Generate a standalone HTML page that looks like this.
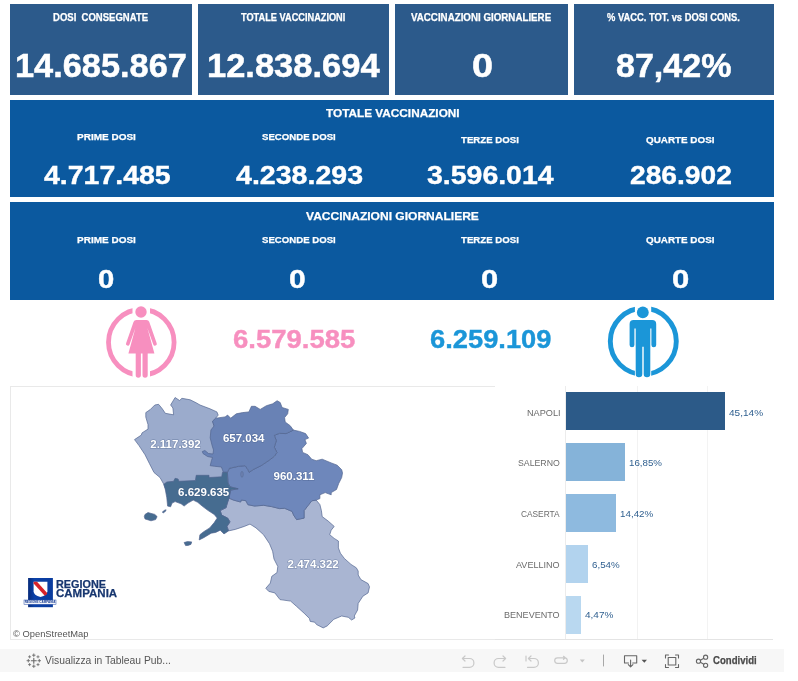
<!DOCTYPE html>
<html lang="it">
<head>
<meta charset="utf-8">
<title>Vaccinazioni Regione Campania</title>
<style>
html,body{margin:0;padding:0;background:#fff;}
body{width:798px;height:681px;position:relative;overflow:hidden;font-family:"Liberation Sans",sans-serif;}
.box{position:absolute;}
.k{background:#2c5a8b;top:4px;height:90.7px;}
.r{background:#0b599f;left:10px;width:763.9px;}
.t{position:absolute;white-space:nowrap;color:#fff;font-weight:bold;line-height:1;transform-origin:0 0;}
.bar{position:absolute;left:566px;height:38.2px;}
</style>
</head>
<body>
<!-- top KPI boxes -->
<div class="box k" style="left:10px;width:181.9px"></div>
<div class="box k" style="left:198.1px;width:190.8px"></div>
<div class="box k" style="left:395.3px;width:172.6px"></div>
<div class="box k" style="left:574.1px;width:199.8px"></div>
<!-- rows -->
<div class="box r" style="top:100px;height:96.7px"></div>
<div class="box r" style="top:202px;height:97.7px"></div>

<!-- gender icons -->
<svg class="box" style="left:100px;top:300px" width="84" height="84" viewBox="100 300 84 84">
  <circle cx="141.3" cy="342.3" r="32.8" fill="none" stroke="#f78fbf" stroke-width="4.8"/>
  <rect x="132.5" y="300" width="17.5" height="84" fill="#fff"/>
  <g fill="#f78fbf">
    <circle cx="141" cy="312" r="5.7"/>
    <path d="M135.5 320.1 h11 a3 3 0 0 1 2.8 2 l7.4 21.2 a1.8 1.8 0 0 1 -3.4 1.2 l-5.9 -16.5 l7 25.6 h-6.7 v21.5 a2.6 2.6 0 0 1 -5.2 0 v-21.5 h-1.6 v21.5 a2.6 2.6 0 0 1 -5.2 0 v-21.5 h-7.3 l7 -25.6 l-5.9 16.5 a1.8 1.8 0 0 1 -3.4 -1.2 l7.4 -21.2 a3 3 0 0 1 2.8 -2 z"/>
  </g>
</svg>
<svg class="box" style="left:600px;top:300px" width="84" height="84" viewBox="600 300 84 84">
  <circle cx="643.3" cy="341.3" r="33" fill="none" stroke="#1b96d8" stroke-width="4.9"/>
  <rect x="634.9" y="300" width="16.3" height="84" fill="#fff"/>
  <g fill="#1b96d8">
    <circle cx="642.8" cy="312.4" r="5.9"/>
    <path d="M633.5 320.1 h18.7 a4 4 0 0 1 4 4 v20.8 a2.4 2.4 0 0 1 -4.8 0 v-16.4 h-1.1 v45.5 a3.3 3.3 0 0 1 -6.6 0 v-27.3 h-1.4 v27.3 a3.3 3.3 0 0 1 -6.6 0 v-45.5 h-1.3 v16.4 a2.4 2.4 0 0 1 -4.8 0 v-20.8 a4 4 0 0 1 4 -4 z"/>
  </g>
</svg>

<!-- MAP -->
<div class="box" style="left:10px;top:386px;width:485px;height:254px;border:1px solid #e9e9e9;border-right:none;box-sizing:border-box"></div>
<svg id="map" class="box" style="left:0;top:380px" width="500" height="265" viewBox="0 380 500 265">
  <polygon fill="#a9b5d2" stroke="#50648f" stroke-opacity="0.85" stroke-width="0.8" stroke-linejoin="round" points="228.5,530.9 227,526.4 230,521.9 227.7,518.1 221.7,515.1 220.2,510.6 226.2,507.6 226.7,505.3 228.7,498 233.3,500 240.6,502 241.3,500 245.9,500.7 247.9,504.7 254.5,506 263.7,505.3 271.6,506.6 279.6,508.6 284.6,508.3 292.1,511.4 293.6,515.1 296.6,519.6 304.1,518.1 304.1,510.6 307.1,506.8 311.7,500.8 316.2,500.1 319.9,504.6 321.4,510.6 322.2,516.6 328.2,521.1 334.2,526.4 331.2,530.2 329.7,534.7 334.2,538.4 338.4,541 338.4,547.9 340.4,553.2 344.4,558.5 351,564.4 356.3,567.8 358.2,571.1 358.2,575 360.9,579.6 368.1,583.6 369.5,586.9 368.1,592.9 362.9,596.2 358.2,603.4 357.6,610 354.3,616 354.9,618 351.6,620 348.3,617.3 341.7,616 333.8,619.3 327.2,625.9 323.2,627.9 316.6,624.6 314.7,622.2 310.2,621.4 309.4,618.4 304.1,613.2 296.6,606.4 290.6,601.1 280,599.6 274.8,592.9 268.8,591.4 265.8,588.3 270.3,583.1 271.8,576.3 277,572.6 277.8,566.5 274,559 272.6,551.2 269.5,543.7 263.5,534.7 256,527.9 250,524.1 244.3,526.4 235.3,529.4"/>
  <polygon fill="#9babcc" stroke="#50648f" stroke-opacity="0.85" stroke-width="0.8" stroke-linejoin="round" points="134.5,439.6 141.3,435.1 142,432.9 148,429.1 148,424.6 145.8,417.1 145.8,412.6 150.3,409.5 154.8,405 158.6,404.3 162.3,408.8 165.3,413.3 173.6,414.8 172.9,408 170.6,405 175.1,397.5 179.6,400.5 181.9,398.3 190.2,399.8 196.2,402.8 200,405 210,408.8 216.9,411.9 218.2,415.1 215.7,418.2 212.5,421.3 220,440 225,470 226,478 200,490 166,490 163.8,484.3 160,477.5 154,472.5 149.5,463.7 145,454.7 139,445.6"/>
  <polygon fill="#6e87bb" stroke="#50648f" stroke-opacity="0.85" stroke-width="0.8" stroke-linejoin="round" points="227.4,472.3 229.4,468.3 238.6,466.3 245.2,465.7 247.9,469.6 249.2,472.3 253.1,469.6 261.1,465.7 269,460.4 274.3,456.4 276.9,452.5 274.3,447.2 276.3,440.6 274.3,435.3 279.6,433.3 286,433.6 293.4,430.1 299.6,431.4 305.6,433.6 308.6,438.1 304.9,439.6 306.4,443.4 301.9,448.6 302.6,452.4 307.9,454.7 311.7,459.2 316.2,460.7 322.2,459.2 331.2,462.9 337.2,465.2 341.7,469.7 342.5,473 341.7,477.5 338.7,483.5 336.5,489.5 331.2,492.6 331.2,494.8 325.2,492.6 319.9,494.8 319.9,498.6 316.2,500.1 311.7,500.8 307.1,506.8 304.1,510.6 304.1,518.1 296.6,519.6 293.6,515.1 292.1,511.4 284.6,508.3 279.6,508.6 271.6,506.6 263.7,505.3 254.5,506 247.9,504.7 245.9,500.7 241.3,500 240.6,502 233.3,500 228.7,498 230.7,490.1 238,488.8 230,486.8 228,482.9"/>
  <polygon fill="#6982b5" stroke="#50648f" stroke-opacity="0.85" stroke-width="0.8" stroke-linejoin="round" points="212.5,421.3 215.7,418.2 225.1,416.9 227.6,415.1 230.7,418.2 236.3,413.8 242.6,412.6 248.9,411.9 251.4,406.3 255.1,406.3 260.2,409.4 266.4,405.7 272.7,403.8 277.1,400.7 280.2,402.5 282.1,407.5 288.3,409.4 287.7,413.8 284.6,417.6 285.2,422 290.2,425.7 293.4,430.1 286,433.6 279.6,433.3 274.3,435.3 276.3,440.6 274.3,447.2 276.9,452.5 274.3,456.4 269,460.4 261.1,465.7 253.1,469.6 249.2,472.3 247.9,469.6 245.2,465.7 238.6,466.3 229.4,468.3 227.4,472.3 223.4,472.3 221.4,467 214.8,466.3 210.2,465.7 211.5,460.4 212.5,457.5 207.5,456.5 203,453.5 202.3,451.5 204.9,450.5 208.5,453.5 213,454 213.5,450 212.2,445.9 210.2,437.9 210.9,430 214,426"/>
  <polygon fill="#466c90" stroke="#50648f" stroke-opacity="0.85" stroke-width="0.8" stroke-linejoin="round" points="163.8,484.3 166.8,482 173.6,481.3 175.1,478.3 178.1,479 178.9,481.3 195.4,480.5 196.2,475.3 209,475.3 209,477.5 221.7,476.8 222.5,472.3 227.4,472.3 228,482.9 230,486.8 238.3,488.8 230.7,490.1 229.2,497.8 226.7,505.3 226.2,507.6 220.2,510.6 221.7,515.1 227.7,518.1 230,521.9 227,526.4 228.5,530.9 224,533.9 220.2,530.2 215.7,532.4 211.2,533.2 203.7,537.7 199.2,539.9 199.9,534.7 203.7,531.7 209.7,527.9 214.2,522.6 217.2,518.1 214.2,514.4 208.2,510.6 202.2,506.1 197.7,502.3 193.2,500.1 187.9,503.1 184.1,506.1 181.1,503.8 175.1,501.6 172.1,503.1 170.6,506.8 167.6,506.1 166.8,497.8 165.3,489.5"/>
  <polygon fill="#466c90" stroke="#50648f" stroke-opacity="0.85" stroke-width="0.8" stroke-linejoin="round" points="145,514.4 148,512.6 154.8,514.4 157.1,516.6 155.6,519.6 151,520.8 145,518.9 144.3,516.5"/>
  <polygon fill="#466c90" stroke="#50648f" stroke-opacity="0.85" stroke-width="0.8" stroke-linejoin="round" points="162.3,512.1 164.5,510.3 166.1,509.8 165.5,511.3 163.2,512.9"/>
  <polygon fill="#466c90" stroke="#50648f" stroke-opacity="0.85" stroke-width="0.8" stroke-linejoin="round" points="184.1,542.5 187.5,541.6 191.7,541.9 190.9,544.4 188,545.4 185.6,545.6"/>
  <ellipse cx="242" cy="474.3" rx="1.3" ry="3" fill="#6c80b0" stroke="#50648f" stroke-opacity="0.7" stroke-width="0.6"/>
  <g font-family="Liberation Sans, sans-serif" font-weight="bold" font-size="11.5" fill="#fff" text-anchor="middle" stroke="#3f557f" stroke-opacity="0.35" stroke-width="1.4" paint-order="stroke" stroke-linejoin="round">
    <text x="175.5" y="447.6">2.117.392</text>
    <text x="243.7" y="441.8">657.034</text>
    <text x="294" y="479.8">960.311</text>
    <text x="203.7" y="495.6">6.629.635</text>
    <text x="313.2" y="567.7">2.474.322</text>
  </g>
</svg>

<!-- BAR CHART -->
<div class="box" style="left:565px;top:386px;width:1px;height:254px;background:#ececec"></div>
<div class="box" style="left:636.5px;top:386px;width:1px;height:254px;background:#f2f2f2"></div>
<div class="box" style="left:707px;top:386px;width:1px;height:254px;background:#f3f3f3"></div>
<div class="box" style="left:495px;top:639px;width:278px;height:1px;background:#e4e4e4"></div>
<div class="bar" style="top:392.3px;width:159px;background:#2c5a88"></div>
<div class="bar" style="top:443px;width:58.8px;background:#85b3d9"></div>
<div class="bar" style="top:494.2px;width:50px;background:#8ebadf"></div>
<div class="bar" style="top:545.2px;width:21.9px;background:#b2d3ee"></div>
<div class="bar" style="top:596px;width:14.7px;background:#b9d8f0"></div>

<!-- TOOLBAR -->
<div class="box" style="left:0;top:649px;width:784px;height:23px;background:#f7f7f7"></div>
<svg class="box" style="left:0;top:645px" width="798" height="32" viewBox="0 645 798 32" fill="none" stroke-linecap="round" stroke-linejoin="round">
  <!-- tableau mark -->
  <g stroke="#6a6a6a" stroke-width="1.1">
    <path d="M33.8 658.2v5M31.3 660.7h5"/>
    <path d="M33.8 653.9v2.6M32.5 655.2h2.6M33.8 664.9v2.6M32.5 666.2h2.6M27 660.7h2.6M28.3 659.4v2.6M38 660.7h2.6M39.3 659.4v2.6" stroke-width="0.9"/>
    <path d="M29.6 655.7v2.2M28.5 656.8h2.2M38 655.7v2.2M36.9 656.8h2.2M29.6 663.5v2.2M28.5 664.6h2.2M38 663.5v2.2M36.9 664.6h2.2" stroke-width="0.8"/>
  </g>
  <!-- undo / redo / revert / refresh (disabled) -->
  <g stroke="#c9c9c9" stroke-width="1.2">
    <path d="M462.5 658.5h7a4.4 4.4 0 0 1 0 8.8h-6.5M465 656l-2.6 2.5 2.6 2.5"/>
    <path d="M505.5 658.5h-7a4.4 4.4 0 0 0 0 8.8h6.500M503 656l2.600 2.500-2.600 2.500"/>
    <path d="M526 656v5M528.500 658.500h5.500a4.400 4.400 0 0 1 0 8.800h-6.500M531 656l-2.600 2.500 2.600 2.500"/>
    <path d="M557.500 657.800h7a2.800 2.800 0 0 1 0 5.600h-7a2.800 2.800 0 0 1 0-5.600zM563.500 656.300l1.800 1.500-1.800 1.500"/>
  </g>
  <path d="M579.800 659.600h5l-2.500 2.900z" fill="#c4c4c4"/>
  <path d="M603.500 655v11" stroke="#a8a8a8" stroke-width="1"/>
  <!-- download -->
  <g stroke="#666" stroke-width="1.1">
    <path d="M628.500 663h-4v-7.300h12.200v7.300h-4M630.600 660v6.600M628.300 664.600l2.300 2.300 2.300-2.300"/>
  </g>
  <path d="M641.600 659.700h5.400l-2.700 3z" fill="#555"/>
  <!-- fullscreen -->
  <g stroke="#666" stroke-width="1.1">
    <path d="M665.500 658v-3h3M675.500 655h3v3M678.500 664.500v3h-3M668.500 667.500h-3v-3"/>
    <rect x="668.200" y="657.500" width="7.600" height="7.500"/>
  </g>
  <!-- share -->
  <g stroke="#666" stroke-width="1.1">
    <circle cx="698.500" cy="661.200" r="2.100"/><circle cx="705.600" cy="657.200" r="2.100"/><circle cx="705.600" cy="665.300" r="2.100"/>
    <path d="M700.400 660.200l3.400-1.900M700.400 662.300l3.400 1.900"/>
  </g>
</svg>
<!-- logo Regione Campania -->
<svg class="box" style="left:20px;top:574px" width="44" height="38" viewBox="20 574 44 38">
  <defs><linearGradient id="lg" x1="0" x2="1" y1="0" y2="0"><stop offset="0" stop-color="#062a7a"/><stop offset="0.25" stop-color="#0b41a8"/><stop offset="1" stop-color="#0a3c9e"/></linearGradient></defs>
  <rect x="28.100" y="578" width="24.800" height="29.200" fill="url(#lg)"/>
  <path d="M33.600 581.700h13.800v9.500q0 4-6.900 5.800q-6.900-1.800-6.900-5.800z" fill="#fff"/>
  <path d="M33.600 581.700h3.400l10.400 11.600q-0.800 1.600-2.600 2.500l-11.200-12.400z" fill="#d8232a"/>
  <rect x="24" y="600" width="32" height="4.300" fill="#f4f6fb" stroke="#2a4fa8" stroke-width="0.5"/>
  <text x="40" y="603.200" text-anchor="middle" font-family="Liberation Sans, sans-serif" font-weight="bold" font-size="3" fill="#1b3f94">REGIONE CAMPANIA</text>
</svg>

<div class="t" style="left:53.00px;top:13px;font-size:10.1px;transform:scaleX(0.9433);-webkit-text-stroke:0.25px #fff">DOSI&nbsp; CONSEGNATE</div>
<div class="t" style="left:241.40px;top:13px;font-size:10.1px;transform:scaleX(0.9120);-webkit-text-stroke:0.25px #fff">TOTALE VACCINAZIONI</div>
<div class="t" style="left:411.00px;top:13px;font-size:10.1px;transform:scaleX(0.9661);-webkit-text-stroke:0.25px #fff">VACCINAZIONI GIORNALIERE</div>
<div class="t" style="left:607.00px;top:13px;font-size:10.1px;transform:scaleX(0.9274);-webkit-text-stroke:0.25px #fff">% VACC. TOT. vs DOSI CONS.</div>
<div class="t" style="left:14.67px;top:49px;font-size:33.9px;transform:scaleX(1.0134);-webkit-text-stroke:0.5px #fff">14.685.867</div>
<div class="t" style="left:206.67px;top:49px;font-size:33.9px;transform:scaleX(1.0175);-webkit-text-stroke:0.5px #fff">12.838.694</div>
<div class="t" style="left:471.78px;top:49px;font-size:33.9px;transform:scaleX(1.1176);-webkit-text-stroke:0.5px #fff">0</div>
<div class="t" style="left:615.86px;top:50px;font-size:32.77px;transform:scaleX(1.0391);-webkit-text-stroke:0.5px #fff">87,42%</div>
<div class="t" style="left:325.60px;top:108px;font-size:11.54px;transform:scaleX(1.0224);-webkit-text-stroke:0.25px #fff">TOTALE VACCINAZIONI</div>
<div class="t" style="left:76.60px;top:132px;font-size:9.52px;transform:scaleX(1.0505);-webkit-text-stroke:0.25px #fff">PRIME DOSI</div>
<div class="t" style="left:261.70px;top:132px;font-size:9.52px;transform:scaleX(1.0108);-webkit-text-stroke:0.25px #fff">SECONDE DOSI</div>
<div class="t" style="left:461.30px;top:135px;font-size:9.52px;transform:scaleX(1.0150);-webkit-text-stroke:0.25px #fff">TERZE DOSI</div>
<div class="t" style="left:645.70px;top:135px;font-size:9.52px;transform:scaleX(1.0361);-webkit-text-stroke:0.25px #fff">QUARTE DOSI</div>
<div class="t" style="left:43.50px;top:163px;font-size:25.85px;transform:scaleX(1.1021);-webkit-text-stroke:0.4px #fff">4.717.485</div>
<div class="t" style="left:236.20px;top:163px;font-size:25.85px;transform:scaleX(1.1056);-webkit-text-stroke:0.4px #fff">4.238.293</div>
<div class="t" style="left:427.10px;top:163px;font-size:25.85px;transform:scaleX(1.1012);-webkit-text-stroke:0.4px #fff">3.596.014</div>
<div class="t" style="left:629.70px;top:163px;font-size:25.85px;transform:scaleX(1.0909);-webkit-text-stroke:0.4px #fff">286.902</div>
<div class="t" style="left:305.50px;top:211px;font-size:11.83px;transform:scaleX(1.0171);-webkit-text-stroke:0.25px #fff">VACCINAZIONI GIORNALIERE</div>
<div class="t" style="left:76.60px;top:235px;font-size:9.52px;transform:scaleX(1.0505);-webkit-text-stroke:0.25px #fff">PRIME DOSI</div>
<div class="t" style="left:261.70px;top:235px;font-size:9.52px;transform:scaleX(1.0108);-webkit-text-stroke:0.25px #fff">SECONDE DOSI</div>
<div class="t" style="left:461.30px;top:235px;font-size:9.52px;transform:scaleX(1.0150);-webkit-text-stroke:0.25px #fff">TERZE DOSI</div>
<div class="t" style="left:645.70px;top:235px;font-size:9.52px;transform:scaleX(1.0361);-webkit-text-stroke:0.25px #fff">QUARTE DOSI</div>
<div class="t" style="left:98.45px;top:267px;font-size:25.56px;transform:scaleX(1.1462);-webkit-text-stroke:0.4px #fff">0</div>
<div class="t" style="left:289.32px;top:267px;font-size:25.56px;transform:scaleX(1.1769);-webkit-text-stroke:0.4px #fff">0</div>
<div class="t" style="left:480.59px;top:267px;font-size:25.56px;transform:scaleX(1.2077);-webkit-text-stroke:0.4px #fff">0</div>
<div class="t" style="left:672.28px;top:267px;font-size:25.56px;transform:scaleX(1.2154);-webkit-text-stroke:0.4px #fff">0</div>
<div class="t" style="left:233.00px;top:327px;font-size:25.85px;transform:scaleX(1.0646);color:#f78fbf;-webkit-text-stroke:0.4px #f78fbf">6.579.585</div>
<div class="t" style="left:429.60px;top:327px;font-size:25.85px;transform:scaleX(1.0567);color:#1b96d8;-webkit-text-stroke:0.4px #1b96d8">6.259.109</div>
<div class="t" style="left:527.00px;top:409px;font-size:9.38px;transform:scaleX(0.9768);color:#6b6b6b;font-weight:normal">NAPOLI</div>
<div class="t" style="left:518.30px;top:459px;font-size:9.09px;transform:scaleX(0.9625);color:#6b6b6b;font-weight:normal">SALERNO</div>
<div class="t" style="left:520.60px;top:510px;font-size:9.09px;transform:scaleX(0.9166);color:#6b6b6b;font-weight:normal">CASERTA</div>
<div class="t" style="left:516.40px;top:561px;font-size:9.09px;transform:scaleX(0.9985);color:#6b6b6b;font-weight:normal">AVELLINO</div>
<div class="t" style="left:504.40px;top:611px;font-size:9.09px;transform:scaleX(0.9970);color:#6b6b6b;font-weight:normal">BENEVENTO</div>
<div class="t" style="left:728.80px;top:409px;font-size:9.18px;transform:scaleX(1.0952);color:#2f5f8f;font-weight:normal">45,14%</div>
<div class="t" style="left:629.20px;top:459px;font-size:8.9px;transform:scaleX(1.0957);color:#2f5f8f;font-weight:normal">16,85%</div>
<div class="t" style="left:620.20px;top:510px;font-size:8.9px;transform:scaleX(1.1056);color:#2f5f8f;font-weight:normal">14,42%</div>
<div class="t" style="left:592.00px;top:561px;font-size:8.9px;transform:scaleX(1.1000);color:#2f5f8f;font-weight:normal">6,54%</div>
<div class="t" style="left:584.50px;top:611px;font-size:8.9px;transform:scaleX(1.1277);color:#2f5f8f;font-weight:normal">4,47%</div>
<div class="t" style="left:56.40px;top:579px;font-size:11.11px;transform:scaleX(0.9759);color:#17366f;-webkit-text-stroke:0.25px #17366f">REGIONE</div>
<div class="t" style="left:56.40px;top:588px;font-size:11.4px;transform:scaleX(1.0098);color:#17366f;-webkit-text-stroke:0.25px #17366f">CAMPANIA</div>
<div class="t" style="left:13.00px;top:629px;font-size:9.52px;transform:scaleX(0.9825);color:#555;font-weight:normal">&copy; OpenStreetMap</div>
<div class="t" style="left:45.10px;top:656px;font-size:10.1px;transform:scaleX(1.0232);color:#555;font-weight:normal">Visualizza in Tableau Pub...</div>
<div class="t" style="left:713.30px;top:655px;font-size:10.68px;transform:scaleX(0.8983);color:#4a4a4a;-webkit-text-stroke:0.25px #4a4a4a">Condividi</div>
</body>
</html>
